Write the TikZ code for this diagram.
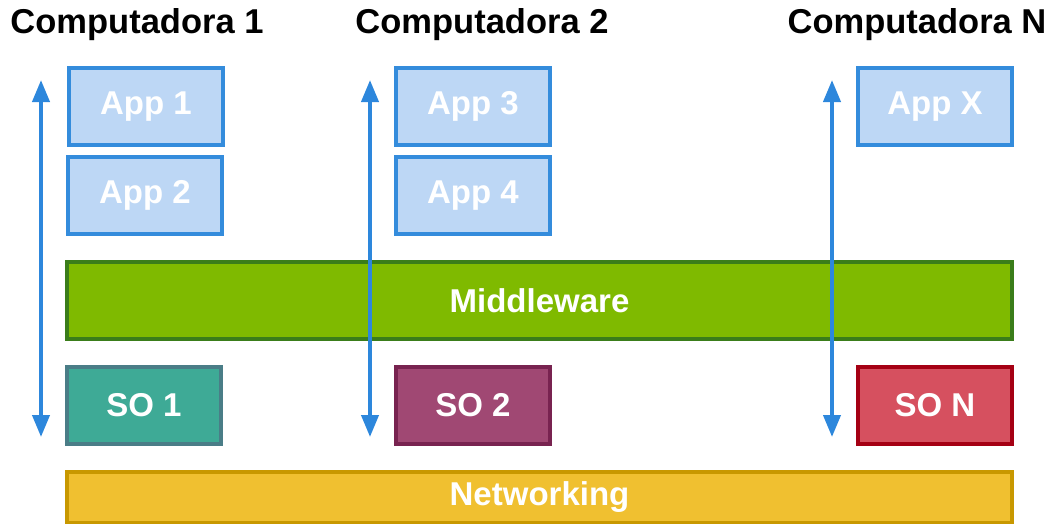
\documentclass[tikz,border=0pt]{standalone}
\usepackage{fontspec}
\setmainfont{Liberation Sans}
\usetikzlibrary{arrows.meta}
\definecolor{appfill}{RGB}{189,215,245}
\definecolor{appdraw}{RGB}{52,140,220}
\definecolor{mwfill}{RGB}{127,186,0}
\definecolor{mwdraw}{RGB}{58,125,26}
\definecolor{so1fill}{RGB}{62,170,150}
\definecolor{so1draw}{RGB}{74,125,135}
\definecolor{so2fill}{RGB}{160,72,115}
\definecolor{so2draw}{RGB}{120,35,80}
\definecolor{sonfill}{RGB}{214,80,95}
\definecolor{sondraw}{RGB}{165,0,20}
\definecolor{netfill}{RGB}{240,192,48}
\definecolor{netdraw}{RGB}{200,152,0}
\definecolor{arrowblue}{RGB}{45,135,220}
\tikzset{
  x=1pt,y=-1pt,
  lbl/.style={font=\fontsize{33}{33}\selectfont\bfseries},
  box/.style={lbl,text=white,line width=4pt,inner sep=0pt,anchor=north west},
  appbox/.style={box,fill=appfill,draw=appdraw,minimum width=154pt,minimum height=77pt},
  sobox/.style={box,minimum width=154pt,minimum height=77pt},
  barbox/.style={box,minimum width=945pt,minimum height=77pt},
  title/.style={lbl,font=\fontsize{34.5}{34.5}\selectfont\bfseries,text=black,anchor=base},
  updown/.style={{Triangle[width=17pt,length=22pt]}-{Triangle[width=17pt,length=22pt]},line width=4pt,draw=arrowblue}
}
\begin{document}
\begin{tikzpicture}
\useasboundingbox (0,0) rectangle (1052,523);
\node[title] (t1) at (137,33) {Computadora 1};
\node[title] (t2) at (482,33) {Computadora 2};
\node[title] (tn) at (917,33) {Computadora N};
\node[appbox] (app1) at (67,66) {App 1};
\node[appbox] (app2) at (66,155) {App 2};
\node[appbox] (app3) at (394,66) {App 3};
\node[appbox] (app4) at (394,155) {App 4};
\node[appbox] (appx) at (856,66) {App X};
\node[barbox,fill=mwfill,draw=mwdraw] (mw) at (65,260) {Middleware};
\node[sobox,fill=so1fill,draw=so1draw] (so1) at (65,365) {SO 1};
\node[sobox,fill=so2fill,draw=so2draw] (so2) at (394,365) {SO 2};
\node[sobox,fill=sonfill,draw=sondraw] (son) at (856,365) {SO N};
\node[barbox,fill=netfill,draw=netdraw,minimum height=51pt] (net) at (65,470) {Networking};
\coordinate (a1t) at (41,80);
\coordinate (a1b) at (41,437);
\coordinate (a2t) at (370,80);
\coordinate (a2b) at (370,437);
\coordinate (ant) at (832,80);
\coordinate (anb) at (832,437);
\draw[updown] (a1t) -- (a1b);
\draw[updown] (a2t) -- (a2b);
\draw[updown] (ant) -- (anb);
\end{tikzpicture}
\end{document}
